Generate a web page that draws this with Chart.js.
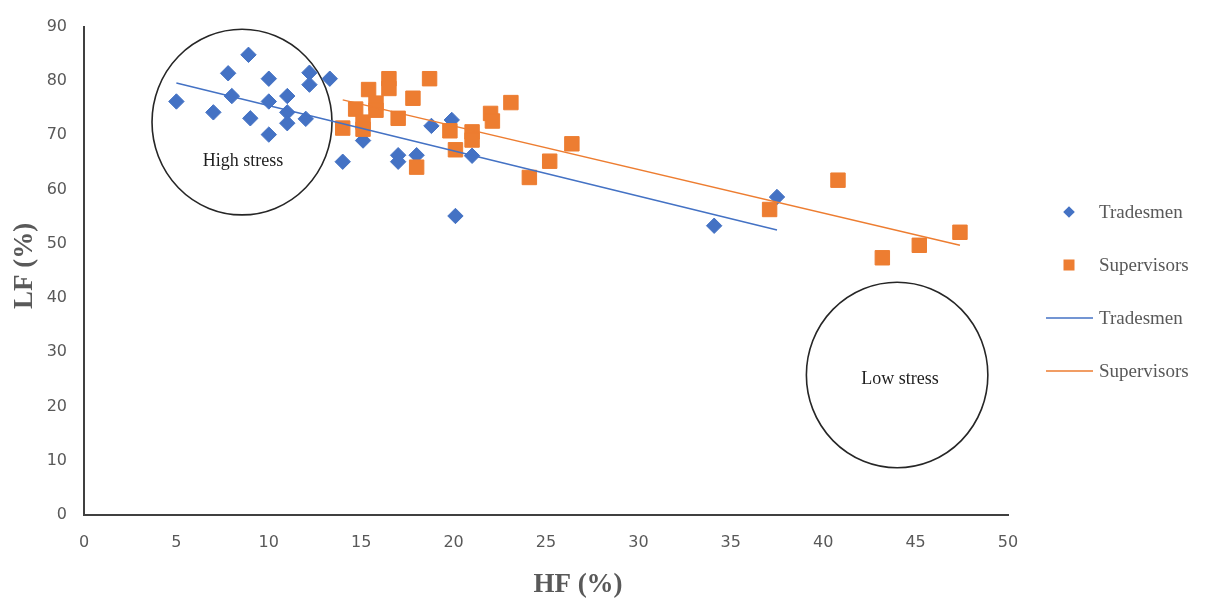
<!DOCTYPE html>
<html>
<head>
<meta charset="utf-8">
<script src="https://cdn.jsdelivr.net/npm/chart.js@4/dist/chart.umd.min.js"></script>
<style>
  html, body { margin: 0; padding: 0; background: #ffffff; }
  #wrap { width: 1208px; height: 599px; }
</style>
</head>
<body>
<div id="wrap"><canvas id="hrvChart" width="1208" height="599"></canvas></div>
<script>
// HF / LF readings
const tradesHF = [5, 7, 7.8, 8, 8.9, 9, 10, 10, 10, 11, 11, 11, 12, 12.2, 12.2, 13.3, 14, 15.1, 17, 17, 18, 18.8, 19.9, 21, 20.1, 34.1, 37.5];
const tradesLF = [76.2, 74.2, 81.4, 77.2, 84.8, 73.1, 80.4, 76.2, 70.1, 77.2, 74.2, 72.2, 73, 81.5, 79.3, 80.4, 65.1, 69, 66.3, 65.1, 66.3, 71.7, 72.8, 66.2, 55.1, 53.3, 58.6];

const supHF = [14, 14.7, 15.1, 15.1, 15.4, 15.8, 15.8, 16.5, 16.5, 17, 17.8, 18.7, 18, 19.8, 20.1, 21, 21, 22, 22.1, 23.1, 24.1, 25.2, 26.4, 37.1, 40.8, 43.2, 45.2, 47.4];
const supLF = [71.3, 74.8, 72.4, 71.1, 78.4, 75.9, 74.6, 80.4, 78.6, 73.1, 76.8, 80.4, 64.1, 70.8, 67.3, 70.6, 69.1, 74, 72.6, 76, 62.2, 65.2, 68.4, 56.3, 61.7, 47.4, 49.7, 52.1];

// linear trend lines (end points as drawn)
const tradesTrendHF = [5, 37.5];
const tradesTrendLF = [79.6, 52.5];
const supTrendHF = [14, 47.4];
const supTrendLF = [76.5, 49.7];

// stress zones (ellipses in data units)
const zoneLabels = ["High stress", "Low stress"];
const zoneHF = [8.55, 44.0];
const zoneLF = [72.4, 25.8];
const zoneSpanHF = [4.87, 4.91];
const zoneSpanLF = [17.1, 17.1];
const zoneTextHF = [8.6, 44.15];
const zoneTextLF = [65.1, 25.1];

const X_MIN = 0, X_MAX = 50, X_STEP = 5;
const Y_MIN = 0, Y_MAX = 90, Y_STEP = 10;
const X_TITLE = "HF (%)";
const Y_TITLE = "LF (%)";

const BLUE = "#4472C4";
const ORANGE = "#ED7D31";
const TEXT_GRAY = "#595959";

const toPoints = (xs, ys) => xs.map((x, i) => ({ x, y: ys[i] }));

const zonesPlugin = {
  id: "stressZones",
  beforeDatasetsDraw(chart) {
    const { ctx, scales } = chart;
    const xs = scales.x;
    const ys = scales.y;
    ctx.save();
    ctx.strokeStyle = "#262626";
    ctx.lineWidth = 1.6;
    zoneLabels.forEach((label, i) => {
      const cx = xs.getPixelForValue(zoneHF[i]);
      const cy = ys.getPixelForValue(zoneLF[i]);
      const rx = Math.abs(xs.getPixelForValue(zoneHF[i] + zoneSpanHF[i]) - cx);
      const ry = Math.abs(ys.getPixelForValue(zoneLF[i] + zoneSpanLF[i]) - cy);
      ctx.beginPath();
      ctx.ellipse(cx, cy, rx, ry, 0, 0, Math.PI * 2);
      ctx.stroke();

      ctx.fillStyle = "#1f1f1f";
      ctx.font = '18px "Liberation Serif", serif';
      ctx.textAlign = "center";
      ctx.textBaseline = "middle";
      ctx.fillText(label, xs.getPixelForValue(zoneTextHF[i]), ys.getPixelForValue(zoneTextLF[i]));
    });
    ctx.restore();
  },
};

const titlesAndLegendPlugin = {
  id: "titlesAndLegend",
  afterDraw(chart) {
    const { ctx } = chart;
    ctx.save();

    // axis titles
    ctx.fillStyle = TEXT_GRAY;
    ctx.font = 'bold 27px "Liberation Serif", serif';
    ctx.textAlign = "center";
    ctx.textBaseline = "middle";
    ctx.fillText(X_TITLE, 578, 585);
    ctx.save();
    ctx.translate(25, 266);
    ctx.rotate(-Math.PI / 2);
    ctx.fillText(Y_TITLE, 0, 0);
    ctx.restore();

    // legend
    const markX = 1069;
    const textX = 1099;
    const firstY = 212;
    const gap = 53;
    ctx.font = '19px "Liberation Serif", serif';
    ctx.textAlign = "left";
    chart.data.datasets.forEach((ds, i) => {
      const y = firstY + i * gap;
      if (ds.type === "line") {
        ctx.strokeStyle = ds.borderColor;
        ctx.lineWidth = 1.5;
        ctx.beginPath();
        ctx.moveTo(markX - 23, y);
        ctx.lineTo(markX + 24, y);
        ctx.stroke();
      } else if (ds.pointStyle === "rectRot") {
        const r = 5.8;
        ctx.fillStyle = ds.backgroundColor;
        ctx.beginPath();
        ctx.moveTo(markX - r, y);
        ctx.lineTo(markX, y - r);
        ctx.lineTo(markX + r, y);
        ctx.lineTo(markX, y + r);
        ctx.closePath();
        ctx.fill();
      } else {
        const h = 5.5;
        ctx.fillStyle = ds.backgroundColor;
        ctx.fillRect(markX - h, y - h, h * 2, h * 2);
      }
      ctx.fillStyle = TEXT_GRAY;
      ctx.fillText(ds.label, textX, y + 1);
    });

    ctx.restore();
  },
};

const axisTicks = {
  color: TEXT_GRAY,
  font: { family: '"DejaVu Sans", sans-serif', size: 16 },
};

new Chart(document.getElementById("hrvChart"), {
  type: "scatter",
  data: {
    datasets: [
      {
        label: "Tradesmen",
        data: toPoints(tradesHF, tradesLF),
        pointStyle: "rectRot",
        pointRadius: 7.7,
        backgroundColor: BLUE,
        borderColor: BLUE,
        borderWidth: 1,
        order: 3,
      },
      {
        label: "Supervisors",
        data: toPoints(supHF, supLF),
        pointStyle: "rect",
        pointRadius: 10.2,
        backgroundColor: ORANGE,
        borderColor: ORANGE,
        borderWidth: 1,
        order: 2,
      },
      {
        type: "line",
        label: "Tradesmen",
        data: toPoints(tradesTrendHF, tradesTrendLF),
        borderColor: BLUE,
        borderWidth: 1.5,
        pointRadius: 0,
        fill: false,
        order: 1,
      },
      {
        type: "line",
        label: "Supervisors",
        data: toPoints(supTrendHF, supTrendLF),
        borderColor: ORANGE,
        borderWidth: 1.5,
        pointRadius: 0,
        fill: false,
        order: 0,
      },
    ],
  },
  options: {
    responsive: false,
    animation: false,
    devicePixelRatio: 1,
    layout: { padding: { top: 20, right: 200, bottom: 0, left: 0 } },
    plugins: {
      legend: { display: false },
      tooltip: { enabled: false },
    },
    scales: {
      x: {
        type: "linear",
        min: X_MIN,
        max: X_MAX,
        ticks: { ...axisTicks, stepSize: X_STEP, padding: 18, maxRotation: 0 },
        grid: { display: false, drawTicks: false },
        border: { display: true, color: "#404040", width: 2 },
        afterFit(scale) {
          scale.height = 84;
        },
      },
      y: {
        min: Y_MIN,
        max: Y_MAX,
        ticks: { ...axisTicks, stepSize: Y_STEP, padding: 17 },
        grid: { display: false, drawTicks: false },
        border: { display: true, color: "#404040", width: 2 },
        afterFit(scale) {
          scale.width = 84;
        },
      },
    },
  },
  plugins: [zonesPlugin, titlesAndLegendPlugin],
});
</script>
</body>
</html>
